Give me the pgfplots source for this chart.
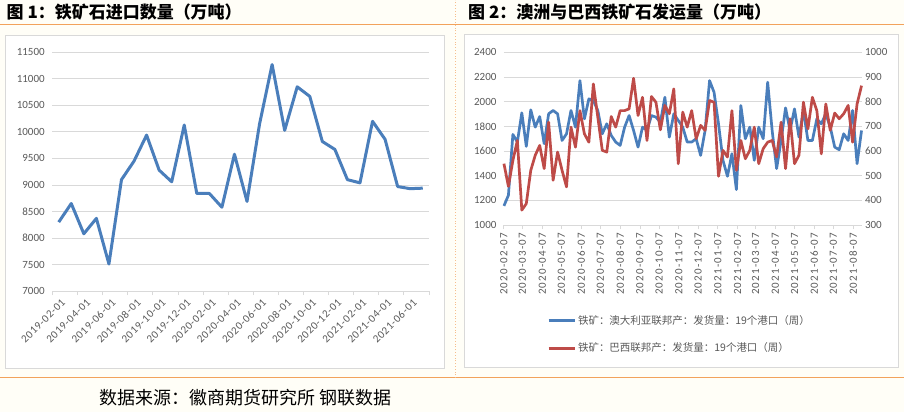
\documentclass[border=0pt]{standalone}
\usepackage{pgfplots}
\pgfplotsset{compat=1.18}
\usepackage{pgfplotstable}
\usepackage{fontspec}
\setmainfont{Carlito}
\newfontfamily\cjk{Noto Sans CJK SC}
\newfontfamily\dateL[LetterSpace=6]{Carlito}
\newfontfamily\dateR[LetterSpace=11]{Carlito}

\definecolor{bg}{HTML}{FFFEF7}
\definecolor{orangeline}{HTML}{F2A25C}
\definecolor{boxgray}{HTML}{D9D9D9}
\definecolor{ticktxt}{HTML}{595959}
\definecolor{blueline}{HTML}{4A7EBB}
\definecolor{redline}{HTML}{BE4B48}

% monthly imports, 2019-02 .. 2021-07
\pgfplotstableread{
m val
0 8300
1 8650
2 8080
3 8370
4 7510
5 9100
6 9450
7 9940
8 9280
9 9060
10 10130
11 8840
12 8840
13 8580
14 9580
15 8690
16 10150
17 11270
18 10030
19 10850
20 10670
21 9820
22 9670
23 9100
24 9040
25 10200
26 9860
27 8970
28 8930
29 8940
}\imports

% weekly shipments from 2020-02-07 (week index)
\pgfplotstableread{
w au br
0 1156 549
1 1242 457
2 1735 562
3 1673 643
4 1910 361
5 1638 387
6 1934 522
7 1794 583
8 1880 623
9 1660 529
10 1902 717
11 1929 482
12 1902 596
13 1686 522
14 1740 455
15 1929 697
16 1794 616
17 2171 764
18 1861 670
19 2023 636
20 2009 872
21 1929 737
22 1740 603
23 1821 596
24 1727 740
25 1673 697
26 1646 764
27 1794 764
28 1888 771
29 1767 895
30 1632 744
31 1794 818
32 1767 643
33 1888 821
34 1875 798
35 1834 686
36 2036 785
37 1713 751
38 1902 852
39 1848 549
40 1794 758
41 1673 697
42 1673 764
43 1700 650
44 1565 704
45 1767 684
46 2171 805
47 2077 798
48 1821 498
49 1525 603
50 1396 576
51 1579 764
52 1288 522
53 1969 643
54 1700 569
55 1794 603
56 1525 697
57 1794 549
58 1700 610
59 2158 636
60 1767 643
61 1458 576
62 1686 717
63 1950 529
64 1767 731
65 1942 549
66 1713 583
67 1929 798
68 1686 690
69 1686 818
70 1861 764
71 1821 589
72 1902 791
73 1794 684
74 1632 754
75 1611 731
76 1740 751
77 1686 785
78 1929 636
79 1498 791
80 1767 865
}\ships

\pgfplotsset{
  base/.style={
    scale only axis,
    anchor=south west,
    tick label style={font=\fontsize{11}{13}\selectfont, text=ticktxt},
    scaled ticks=false,
    /pgf/number format/1000 sep={},
    /pgf/number format/assume math mode=true,
    ytick style={draw=none},
    ymajorgrids,
    major grid style={draw=boxgray, line width=0.9pt},
    axis x line*=bottom,
    axis y line*=left,
    y axis line style={draw=none},
    x axis line style={draw=boxgray, line width=0.9pt},
    clip=false,
  },
}

\begin{document}
\begin{tikzpicture}
\fill[bg] (0pt,0pt) rectangle (904pt,412pt);
\filldraw[fill=white, draw=boxgray] (5pt,44pt) rectangle (444pt,377pt);
\filldraw[fill=white, draw=boxgray] (464pt,45pt) rectangle (899pt,378pt);
\draw[orangeline, line width=1pt] (0pt,388pt) -- (904pt,388pt);
\draw[orangeline, line width=1pt] (0pt,34pt) -- (904pt,34pt);
\draw[orangeline!70, dotted, line width=0.8pt] (455pt,34pt) -- (455pt,412pt);

\node[anchor=west, inner sep=0pt] at (6pt,400pt)
  {\cjk\bfseries\fontsize{17}{19}\selectfont 图 1：铁矿石进口数量（万吨）};
\node[anchor=west, inner sep=0pt] at (468pt,400pt)
  {\cjk\bfseries\fontsize{17}{19}\selectfont 图 2：澳洲与巴西铁矿石发运量（万吨）};
\node[inner sep=0pt] at (245pt,14pt)
  {\cjk\fontsize{18}{20}\selectfont 数据来源：徽商期货研究所 钢联数据};

% Figure 1
\begin{axis}[base,
    at={(52pt,121pt)}, width=377pt, height=239pt,
    xmin=-0.5, xmax=29.5, ymin=7000, ymax=11500,
    ytick={7000,7500,...,11500},
    xtick={0,2,...,28},
    xticklabels={2019-02-01,2019-04-01,2019-06-01,2019-08-01,2019-10-01,2019-12-01,
      2020-02-01,2020-04-01,2020-06-01,2020-08-01,2020-10-01,2020-12-01,
      2021-02-01,2021-04-01,2021-06-01},
    minor xtick={-0.5,1.5,...,29.5},
    major x tick style={draw=none},
    minor x tick style={draw=boxgray, line width=0.9pt},
    tick align=outside, minor tick length=4pt,
    xticklabel style={rotate=45, anchor=north east, font=\dateL\fontsize{11}{13}\selectfont, xshift=3pt},
  ]
\addplot[blueline, line width=3pt, line join=round] table[x=m, y=val] {\imports};
\end{axis}

% Figure 2: Australia (left axis)
\begin{axis}[base,
    at={(504pt,187pt)}, width=358pt, height=173pt,
    xmin=0, xmax=80, ymin=1000, ymax=2400,
    ytick={1000,1200,...,2400},
    xtick={0,4.1429,8.5714,12.8571,17.2857,21.5714,26,30.4286,34.7143,39.1429,
      43.4286,47.8571,52.2857,56.2857,60.7143,65,69.4286,73.7143,78.1429},
    xticklabels={2020-02-07,2020-03-07,2020-04-07,2020-05-07,2020-06-07,2020-07-07,
      2020-08-07,2020-09-07,2020-10-07,2020-11-07,2020-12-07,2021-01-07,2021-02-07,
      2021-03-07,2021-04-07,2021-05-07,2021-06-07,2021-07-07,2021-08-07},
    x tick style={draw=boxgray, line width=0.9pt},
    tick align=outside, major tick length=4pt,
    xticklabel style={rotate=90, anchor=east, font=\dateR\fontsize{11}{13}\selectfont},
    legend style={at={(0.12,-0.51)}, anchor=north west, draw=none, fill=none,
      font=\cjk\fontsize{10.5}{12}\selectfont, text=ticktxt, row sep=13pt,
      cells={anchor=west}, inner sep=0pt},
    legend image code/.code={\draw[#1, line width=3pt] (0pt,0pt) -- (26pt,0pt);},
  ]
\addplot[blueline, line width=2.7pt, line join=round] table[x=w, y=au] {\ships};
\addlegendentry{铁矿：澳大利亚联邦产：发货量：19个港口（周）}
\addlegendimage{redline, line width=2.7pt}
\addlegendentry{铁矿：巴西联邦产：发货量：19个港口（周）}
\end{axis}

% Figure 2: Brazil (right axis)
\begin{axis}[
    scale only axis, anchor=south west,
    at={(504pt,187pt)}, width=358pt, height=173pt,
    xmin=0, xmax=80, ymin=300, ymax=1000,
    ytick={300,400,...,1000},
    axis x line=none,
    axis y line*=right,
    y axis line style={draw=none},
    ytick style={draw=none},
    tick label style={font=\fontsize{11}{13}\selectfont, text=ticktxt},
    scaled ticks=false,
    /pgf/number format/1000 sep={},
    /pgf/number format/assume math mode=true,
    clip=false,
  ]
\addplot[redline, line width=2.7pt, line join=round] table[x=w, y=br] {\ships};
\end{axis}
\end{tikzpicture}
\end{document}
